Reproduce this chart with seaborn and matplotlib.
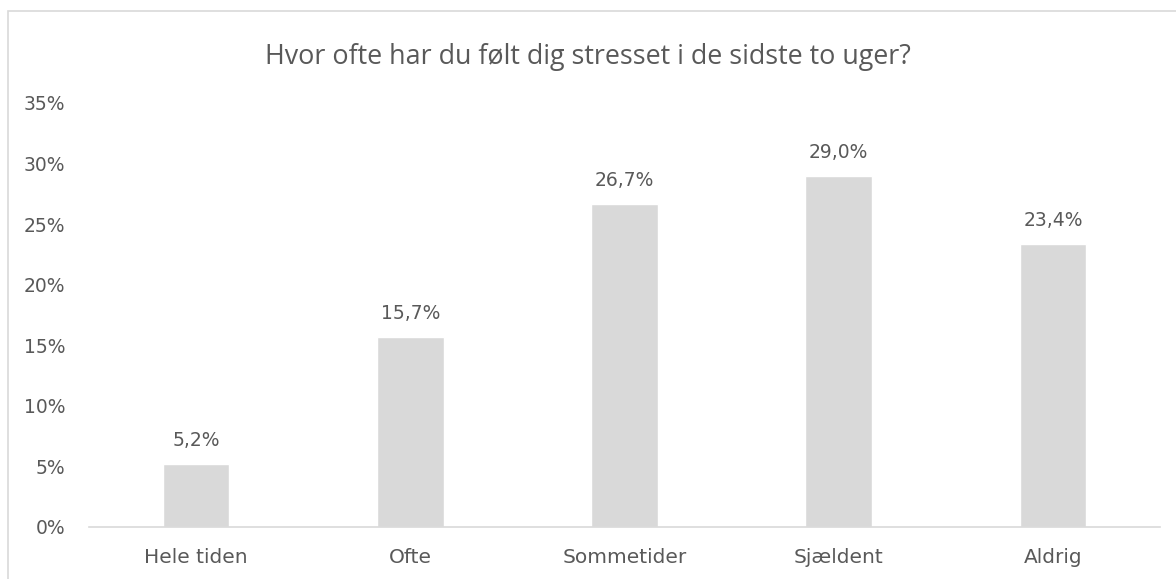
import matplotlib
matplotlib.use("Agg")
import matplotlib.pyplot as plt
import seaborn as sns
import pandas as pd
from matplotlib.patches import Rectangle
from matplotlib.ticker import FuncFormatter

categories = ["Hele tiden", "Ofte", "Sommetider", "Sjældent", "Aldrig"]
values = [5.2, 15.7, 26.7, 29.0, 23.4]
y_ticks = [0, 5, 10, 15, 20, 25, 30, 35]
title = "Hvor ofte har du følt dig stresset i de sidste to uger?"

TEXT = "#595959"
BAR = "#D9D9D9"

sns.set_theme(style="white")
plt.rcParams["font.family"] = ["DejaVu Sans"]

df = pd.DataFrame({"kategori": categories, "andel": values})

fig = plt.figure(figsize=(11.76, 5.79), dpi=100)
ax = fig.add_axes([89 / 1176, 1 - 527 / 579, (1160 - 89) / 1176, (527 - 103) / 579])

sns.barplot(data=df, x="kategori", y="andel", order=categories,
            color=BAR, width=0.31, saturation=1, ax=ax)

ax.set_ylim(0, 35)
ax.set_xlim(-0.5, len(categories) - 0.5)
ax.set_yticks(y_ticks)
ax.yaxis.set_major_formatter(FuncFormatter(lambda v, p: f"{v:.0f}%"))
ax.set_xlabel("")
ax.set_ylabel("")
ax.tick_params(axis="both", length=0, colors=TEXT)
ax.tick_params(axis="y", pad=17, labelsize=13.5)
ax.tick_params(axis="x", pad=15, labelsize=14.5)
for s in ["top", "right", "left"]:
    ax.spines[s].set_visible(False)
ax.spines["bottom"].set_color(BAR)
ax.spines["bottom"].set_linewidth(1.2)
ax.grid(False)

labels = [f"{v:.1f}%".replace(".", ",") for v in values]
ax.bar_label(ax.containers[0], labels=labels, padding=10, fontsize=13.5, color=TEXT)

fig.text(588 / 1176, 1 - 57 / 579, title, ha="center", va="center",
         fontsize=19.4, color=TEXT, family=["Open Sans", "DejaVu Sans"])

# chart frame
fig.patches.append(Rectangle((8 / 1176, -0.05), 1.2, 1 - 11 / 579 + 0.05,
                             transform=fig.transFigure, fill=False,
                             edgecolor=BAR, linewidth=1.2))

fig.savefig("out.png", dpi=100, facecolor="white")
